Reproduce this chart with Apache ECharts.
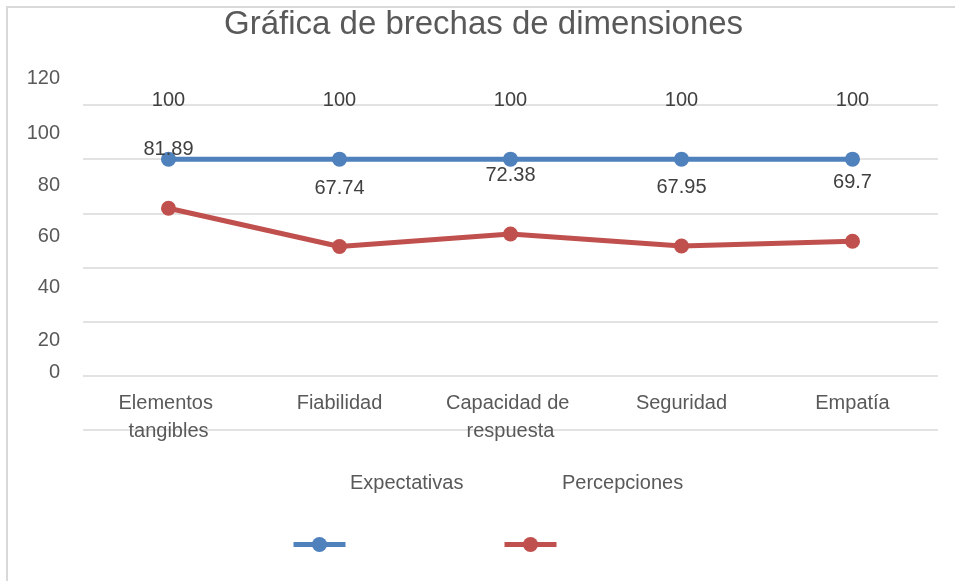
<!DOCTYPE html>
<html>
<head>
<meta charset="utf-8">
<script src="https://cdn.jsdelivr.net/npm/echarts@6/dist/echarts.min.js"></script>
<style>
html,body{margin:0;padding:0;background:#fff;overflow:hidden;}
#frame{position:absolute;left:6px;top:6px;width:1000px;height:700px;border-left:2px solid #d9d9d9;border-top:2px solid #d9d9d9;box-sizing:border-box;}
#chart{position:absolute;left:0;top:0;width:955px;height:581px;}
</style>
</head>
<body>
<div id="frame"></div>
<div id="chart"></div>
<script>
const titleText = 'Gráfica de brechas de dimensiones';
const categories = ['Elementos tangibles', 'Fiabilidad', 'Capacidad de respuesta', 'Seguridad', 'Empatía'];
const seriesNames = ['Expectativas', 'Percepciones'];
const expectativas = [100, 100, 100, 100, 100];
const percepciones = [81.89, 67.74, 72.38, 67.95, 69.7];
const yTicks = { min: 0, max: 120, interval: 20 };

const font = '"Liberation Sans", Arial, sans-serif';
// per-tick label line heights (styling only: reproduces the shifted tick labels)
const labelLH = { 0: 116, 20: 70, 40: 68, 60: 62, 80: 56, 100: 52, 120: 54 };
const rich = {};
Object.keys(labelLH).forEach(function (k) {
  rich['t' + k] = { fontFamily: font, fontSize: 20, color: '#595959', lineHeight: labelLH[k] };
});

const chart = echarts.init(document.getElementById('chart'), null, { renderer: 'canvas' });
chart.setOption({
  backgroundColor: 'transparent',
  animation: false,
  textStyle: { fontFamily: font },
  title: {
    text: titleText,
    left: 219,
    top: 3,
    textStyle: { fontFamily: font, fontSize: 33, fontWeight: 'normal', color: '#595959' }
  },
  legend: [
    {
      data: seriesNames,
      left: 340,
      top: 466,
      itemWidth: 0,
      itemHeight: 0,
      itemGap: 7,
      itemStyle: { opacity: 0 },
      lineStyle: { width: 0, opacity: 0 },
      textStyle: { fontFamily: font, fontSize: 20, color: '#595959', width: 200, lineHeight: 24 }
    },
    {
      data: seriesNames,
      left: 286,
      top: 530,
      itemWidth: 52,
      itemHeight: 19,
      itemGap: 154,
      formatter: function () { return ''; },
      lineStyle: { width: 5 },
      textStyle: { width: 0 }
    }
  ],
  grid: { left: 83, right: 17, top: 105, bottom: 151, containLabel: false },
  xAxis: {
    type: 'category',
    data: categories,
    axisLine: { show: false },
    axisTick: { show: false },
    axisLabel: {
      interval: 0,
      margin: -41,
      fontFamily: font,
      fontSize: 20,
      lineHeight: 28,
      color: '#595959',
      width: 150,
      overflow: 'break'
    }
  },
  yAxis: {
    type: 'value',
    min: yTicks.min,
    max: yTicks.max,
    interval: yTicks.interval,
    axisLine: { show: false },
    axisTick: { show: false },
    splitLine: { lineStyle: { color: '#d9d9d9', width: 1.5 } },
    axisLabel: {
      margin: 23,
      verticalAlign: 'bottom',
      formatter: function (v) { return '{t' + v + '|' + v + '}'; },
      rich: rich
    }
  },
  series: [
    {
      name: seriesNames[0],
      type: 'line',
      data: expectativas,
      color: '#4f81bd',
      symbol: 'circle',
      symbolSize: 15,
      lineStyle: { width: 5, color: '#4f81bd' },
      itemStyle: { color: '#4f81bd' },
      label: { show: true, position: 'top', distance: 41, fontFamily: font, fontSize: 20, color: '#404040' }
    },
    {
      name: seriesNames[1],
      type: 'line',
      data: percepciones,
      color: '#c0504d',
      symbol: 'circle',
      symbolSize: 15,
      lineStyle: { width: 5, color: '#c0504d' },
      itemStyle: { color: '#c0504d' },
      label: { show: true, position: 'top', distance: 41, fontFamily: font, fontSize: 20, color: '#404040' }
    }
  ]
});
</script>
</body>
</html>
